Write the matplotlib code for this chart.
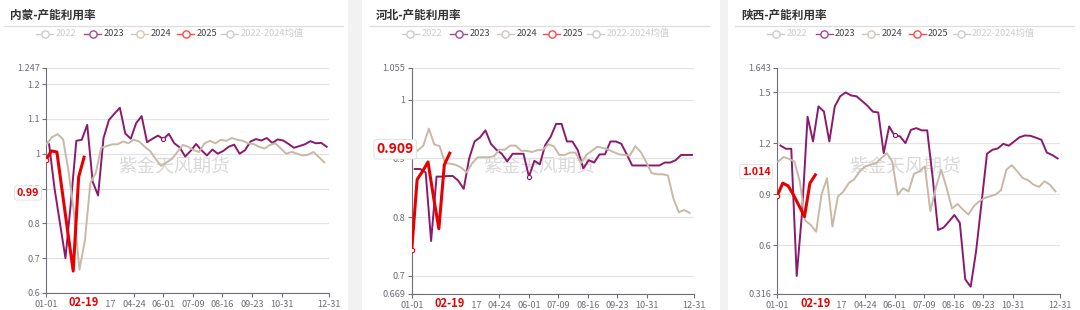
import numpy as np
import pandas as pd
import matplotlib
matplotlib.use("Agg")
import matplotlib.pyplot as plt
from matplotlib.lines import Line2D
from matplotlib.patches import Rectangle
from matplotlib.ticker import FuncFormatter

plt.rcParams["font.family"] = ["Noto Sans CJK SC", "DejaVu Sans"]

W, H = 1080, 310

titles = ["内蒙-产能利用率", "河北-产能利用率", "陕西-产能利用率"]
legend_names = ["2022", "2023", "2024", "2025", "2022-2024均值"]
watermark = "紫金天风期货"

dates_2023 = pd.date_range("2023-01-05", periods=52, freq="7D")
dates_2024 = pd.date_range("2024-01-02", periods=52, freq="7D")
dates_2025 = pd.date_range("2025-01-01", periods=8, freq="7D")

neimeng_2023 = [1.027, 0.90, 0.80, 0.70, 0.86, 1.037, 1.04, 1.083, 0.92, 0.88,
                1.045, 1.097, 1.115, 1.132, 1.058, 1.043, 1.088, 1.108, 1.033, 1.043,
                1.052, 1.042, 1.057, 1.03, 1.018, 0.992, 1.008, 1.028, 1.01, 0.995,
                1.012, 1.0, 1.008, 1.02, 1.026, 1.0, 1.01, 1.035, 1.042, 1.038,
                1.045, 1.031, 1.041, 1.038, 1.028, 1.017, 1.022, 1.027, 1.036, 1.03,
                1.031, 1.02]
neimeng_2024 = [1.029, 1.048, 1.056, 1.041, 0.95, 0.83, 0.667, 0.75, 0.915, 0.945,
                1.017, 1.022, 1.027, 1.027, 1.035, 1.03, 1.04, 1.035, 1.02, 1.008,
                0.985, 0.965, 0.975, 0.985, 1.005, 1.025, 1.02, 1.01, 1.005, 1.03,
                1.037, 1.03, 1.04, 1.037, 1.045, 1.04, 1.037, 1.03, 1.028, 1.02,
                1.015, 1.025, 1.03, 1.015, 1.0, 1.005, 1.0, 0.995, 0.997, 1.005,
                0.99, 0.975]
neimeng_2025 = [0.983, 1.008, 1.005, 0.89, 0.775, 0.663, 0.933, 0.99]

hebei_2023 = [0.882, 0.882, 0.876, 0.759, 0.869, 0.869, 0.87, 0.87, 0.862, 0.848,
              0.90, 0.929, 0.936, 0.948, 0.925, 0.915, 0.908, 0.895, 0.908, 0.908,
              0.908, 0.869, 0.896, 0.89, 0.923, 0.937, 0.959, 0.959, 0.929, 0.929,
              0.914, 0.883, 0.897, 0.893, 0.907, 0.907, 0.929, 0.929, 0.925, 0.907,
              0.888, 0.888, 0.888, 0.888, 0.888, 0.888, 0.893, 0.893, 0.897, 0.906,
              0.906, 0.906]
hebei_2024 = [0.907, 0.914, 0.922, 0.951, 0.924, 0.921, 0.892, 0.891, 0.889, 0.884,
              0.876, 0.892, 0.902, 0.902, 0.902, 0.904, 0.915, 0.915, 0.922, 0.922,
              0.913, 0.913, 0.911, 0.914, 0.915, 0.924, 0.921, 0.906, 0.906, 0.91,
              0.91, 0.892, 0.906, 0.913, 0.92, 0.918, 0.915, 0.911, 0.907, 0.906,
              0.905, 0.921, 0.911, 0.894, 0.875, 0.873, 0.873, 0.871, 0.832, 0.808,
              0.812, 0.807]
hebei_2025 = [0.743, 0.864, 0.878, 0.894, 0.835, 0.780, 0.889, 0.909]

shaanxi_2023 = [1.186, 1.167, 1.167, 0.42, 0.80, 1.355, 1.21, 1.416, 1.386, 1.21,
                1.416, 1.475, 1.498, 1.48, 1.475, 1.448, 1.42, 1.385, 1.38, 1.141,
                1.298, 1.245, 1.24, 1.20, 1.278, 1.288, 1.275, 1.275, 1.0, 0.69,
                0.704, 0.74, 0.778, 0.732, 0.40, 0.357, 0.567, 0.85, 1.138, 1.161,
                1.169, 1.196, 1.185, 1.21, 1.235, 1.245, 1.243, 1.232, 1.22, 1.145,
                1.13, 1.11]
shaanxi_2024 = [1.092, 1.118, 1.108, 1.092, 0.975, 0.745, 0.72, 0.68, 0.90, 0.994,
                0.71, 0.886, 0.916, 0.965, 0.988, 1.033, 1.063, 1.073, 1.082, 1.112,
                1.141, 1.092, 0.896, 0.935, 0.916, 1.02, 1.034, 1.064, 0.80, 0.937,
                1.044, 0.937, 0.816, 0.843, 0.81, 0.781, 0.83, 0.859, 0.878, 0.888,
                0.898, 0.923, 1.044, 1.071, 1.034, 0.995, 0.982, 0.956, 0.943, 0.976,
                0.956, 0.917]
shaanxi_2025 = [0.892, 0.965, 0.949, 0.895, 0.832, 0.769, 0.965, 1.014]

series_2023 = [neimeng_2023, hebei_2023, shaanxi_2023]
series_2024 = [neimeng_2024, hebei_2024, shaanxi_2024]
series_2025 = [neimeng_2025, hebei_2025, shaanxi_2025]

y_ranges = [(0.6, 1.247), (0.669, 1.055), (0.316, 1.643)]
y_ticks = [[0.6, 0.7, 0.8, 0.9, 1.0, 1.1, 1.2, 1.247],
           [0.669, 0.7, 0.8, 0.9, 1.0, 1.055],
           [0.316, 0.6, 0.9, 1.2, 1.5, 1.643]]
x_tick_labels = ["01-01", "02-08", "03-17", "04-24", "06-01", "07-09",
                 "08-16", "09-23", "10-31", "12-31"]
hidden_x_labels = ["02-08"]

# layout (pixels)
axes_px = [(46, 67.7, 329, 293), (411.7, 67.7, 694.3, 293.7), (777.3, 67.7, 1060, 293.7)]
badge_pos = [0.444, 0.639, 0.54]       # axes fraction
badge_dx = [-4, 5, -4]                 # px from y axis
badge_size = [7.7, 10, 7.7]

c2023 = "#8b1a6e"
c2024 = "#c8b9a6"
c2025 = "#e60000"
legend_marker_colors = ["#cccccc", "#a44a92", "#d6c6b4", "#ff4a4a", "#cccccc"]
legend_text_colors = ["#cccccc", "#444444", "#444444", "#444444", "#cccccc"]
legend_offsets = [0, 48.3, 95, 141.3, 185.3]
axis_grey = "#6e7079"


def doy(dates):
    return np.asarray(dates.dayofyear) - 1


fig = plt.figure(figsize=(W / 100, H / 100), dpi=100)
fig.patch.set_facecolor("white")
fig.patches.append(Rectangle((348 / W, 0), 14 / W, 1, transform=fig.transFigure,
                             facecolor="#f2f2f2", edgecolor="none"))
fig.patches.append(Rectangle((720 / W, 0), 8 / W, 1, transform=fig.transFigure,
                             facecolor="#f2f2f2", edgecolor="none"))

tick_days = doy(pd.to_datetime(["2025-" + t for t in x_tick_labels]))
px = 1 / 100 * 72  # points per pixel

for k in range(3):
    left, top, right, bottom = axes_px[k]
    ax = fig.add_axes([left / W, 1 - bottom / H, (right - left) / W, (bottom - top) / H])

    # header
    fig.text((left - 36) / W, 1 - 15.5 / H, titles[k], fontsize=8.4, fontweight="bold",
             color="#333333", ha="left", va="center")
    fig.add_artist(Line2D([(left - 42) / W, (left + 297) / W], [1 - 25.7 / H] * 2,
                          color="#dddddd", lw=0.9))
    for j, name in enumerate(legend_names):
        mx = left - 1.5 + legend_offsets[j]
        my = 1 - 33.7 / H
        fig.add_artist(Line2D([(mx - 8.5) / W, mx / W, (mx + 8.5) / W], [my] * 3,
                              color=legend_marker_colors[j], lw=1.0, marker="o",
                              markevery=[1], markersize=5.2, markerfacecolor="white",
                              markeredgewidth=1.0))
        fig.text((mx + 11) / W, my, name, fontsize=6.7, color=legend_text_colors[j],
                 ha="left", va="center")

    ax.text(0.452, 0.558, watermark, transform=ax.transAxes, fontsize=13.4,
            color="#d9d9d9", ha="center", va="center", zorder=0)

    ax.plot(doy(dates_2023), series_2023[k], color=c2023, lw=1.4, zorder=3,
            marker="o", markevery=[21], markersize=3, markerfacecolor="white",
            markeredgewidth=0.8)
    ax.plot(doy(dates_2024), series_2024[k], color=c2024, lw=1.4, zorder=3)
    ax.plot(doy(dates_2025), series_2025[k], color=c2025, lw=2.2, zorder=4,
            marker="o", markevery=[0], markersize=3.2, markerfacecolor="white",
            markeredgewidth=0.8)

    ax.set_xlim(0, 364)
    ax.set_ylim(*y_ranges[k])
    ax.set_yticks(y_ticks[k])
    ax.yaxis.set_major_formatter(FuncFormatter(lambda v, p: f"{v:g}"))
    ax.set_xticks(tick_days)
    ax.set_xticklabels(["" if t in hidden_x_labels else t for t in x_tick_labels])
    ax.tick_params(axis="both", colors=axis_grey, labelsize=6.6, length=4 * px,
                   width=0.8, pad=1.5)
    ax.tick_params(axis="x", pad=2.5)
    ax.grid(axis="y", color="#e4e4e4", lw=0.9)
    ax.set_axisbelow(True)
    for s in ["top", "right"]:
        ax.spines[s].set_visible(False)
    for s in ["left", "bottom"]:
        ax.spines[s].set_color(axis_grey)
        ax.spines[s].set_linewidth(0.8)

    # current-date label on the x axis (drawn under the spines, over tick labels)
    last_date = dates_2025[-1]
    ax.annotate(last_date.strftime("%m-%d"), xy=(doy(dates_2025)[-1], 0),
                xycoords=("data", "axes fraction"), xytext=(0, -10 * px),
                textcoords="offset points", ha="center", va="center",
                fontsize=8, fontweight="bold", color=c2025, annotation_clip=False,
                bbox=dict(boxstyle="square,pad=0.6", fc="white", ec="none"), zorder=2)
    ax.annotate(f"{series_2025[k][-1]:g}", xy=(0, badge_pos[k]), xycoords="axes fraction",
                xytext=(badge_dx[k] * px - 2, 0), textcoords="offset points",
                ha="right", va="center", fontsize=badge_size[k], fontweight="bold",
                color=c2025, annotation_clip=False,
                bbox=dict(boxstyle="round,pad=0.2,rounding_size=0.2", fc="white",
                          ec="#dddddd", lw=0.6), zorder=6)

fig.savefig("out.png", dpi=100, facecolor="white")
